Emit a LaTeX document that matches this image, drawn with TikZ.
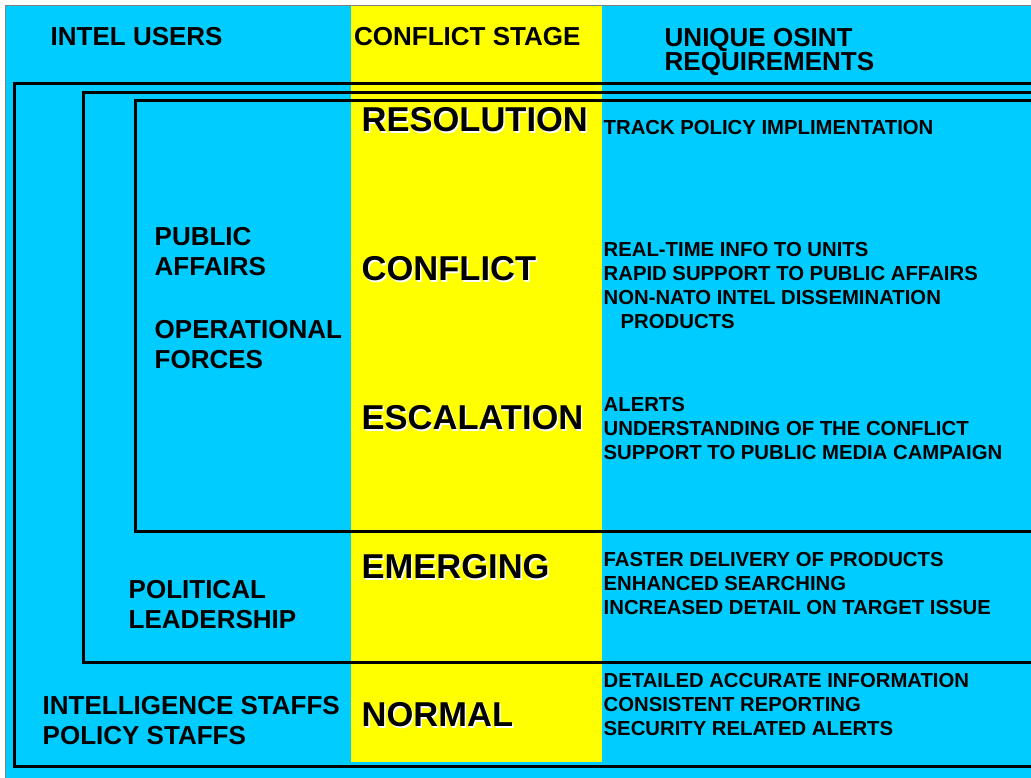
\documentclass[tikz,border=0pt]{standalone}
\usepackage{fontspec}
\setmainfont{Liberation Sans}
\usepackage{tikz}
\usetikzlibrary{positioning}
\definecolor{slidecyan}{RGB}{0, 204, 255}
\definecolor{stageyellow}{RGB}{255, 255, 0}
\definecolor{framegray}{RGB}{128, 128, 128}

\begin{document}
\begin{tikzpicture}[x=1pt, y=-1pt,
  hdtext/.style={anchor=north west, inner sep=0pt, align=left, font=\fontsize{26}{22}\selectfont\bfseries},
  usertext/.style={anchor=north west, inner sep=0pt, align=left, font=\fontsize{26}{30.8}\selectfont\bfseries},
  stagetext/.style={anchor=north west, inner sep=0pt, font=\fontsize{34.5}{40}\selectfont\bfseries},
  stageshadow/.style={stagetext, text=white, xshift=1.5pt, yshift=-1.5pt},
  reqtext/.style={anchor=north west, inner sep=0pt, align=left, font=\fontsize{20.3}{24}\selectfont\bfseries},
  frameline/.style={line width=3pt}]
  \useasboundingbox (0,0) rectangle (1031,778);

  % Slide background and stage column
  \fill[white] (0,0) rectangle (1031,778);
  \fill[slidecyan] (5,5) rectangle (1031,778);
  \draw[framegray, line width=1pt] (5.5,778) -- (5.5,5.5) -- (1031,5.5);
  \fill[stageyellow] (351,6) rectangle (602,762);

  % Nested user frames (open to the right)
  \draw[frameline] (1031,83.5) -- (14.5,83.5) -- (14.5,766.5) -- (1031,766.5);
  \draw[frameline] (1031,92.5) -- (83.5,92.5) -- (83.5,662) -- (1031,662);
  \draw[frameline] (1031,100.5) -- (135.5,100.5) -- (135.5,531.5) -- (1031,531.5);

  % Column headings
  \node[hdtext] (hdusers) at (50.5, 27.5) {INTEL USERS};
  \node[hdtext] (hdstage) at (354, 27.5) {CONFLICT STAGE};
  \node[hdtext] (hdreq) at (664.5, 28) {UNIQUE OSINT\\REQUIREMENTS};

  % Intel users
  \node[usertext] (usrpa) at (154.5, 226.7) {PUBLIC\\AFFAIRS};
  \node[usertext] (usrops) at (154.5, 319.7) {OPERATIONAL\\FORCES};
  \node[usertext] (usrpol) at (128.5, 579.7) {POLITICAL\\LEADERSHIP};
  \node[usertext] (usrstaff) at (42.5, 695.7) {INTELLIGENCE STAFFS\\POLICY STAFFS};

  % Conflict stages (white shadow first)
  \node[stageshadow] (resshadow) at (361.5, 107.7) {RESOLUTION};
  \node[stagetext] (res) at (361.5, 107.7) {RESOLUTION};
  \node[stageshadow] (conshadow) at (361.5, 256.7) {CONFLICT};
  \node[stagetext] (con) at (361.5, 256.7) {CONFLICT};
  \node[stageshadow] (escshadow) at (361.5, 405.7) {ESCALATION};
  \node[stagetext] (esc) at (361.5, 405.7) {ESCALATION};
  \node[stageshadow] (emgshadow) at (361.5, 554.7) {EMERGING};
  \node[stagetext] (emg) at (361.5, 554.7) {EMERGING};
  \node[stageshadow] (norshadow) at (361.5, 702.7) {NORMAL};
  \node[stagetext] (nor) at (361.5, 702.7) {NORMAL};

  % Requirements per stage
  \node[reqtext] (reqres) at (603.5, 119.7) {TRACK POLICY IMPLIMENTATION};
  \node[reqtext] (reqcon) at (603.5, 241.7) {REAL-TIME INFO TO UNITS\\RAPID SUPPORT TO PUBLIC AFFAIRS\\NON-NATO INTEL DISSEMINATION\\\hspace*{17pt}PRODUCTS};
  \node[reqtext] (reqesc) at (603.5, 396.7) {ALERTS\\UNDERSTANDING OF THE CONFLICT\\SUPPORT TO PUBLIC MEDIA CAMPAIGN};
  \node[reqtext] (reqemg) at (603.5, 551.7) {FASTER DELIVERY OF PRODUCTS\\ENHANCED SEARCHING\\INCREASED DETAIL ON TARGET ISSUE};
  \node[reqtext] (reqnor) at (603.5, 672.7) {DETAILED ACCURATE INFORMATION\\CONSISTENT REPORTING\\SECURITY RELATED ALERTS};
\end{tikzpicture}
\end{document}
